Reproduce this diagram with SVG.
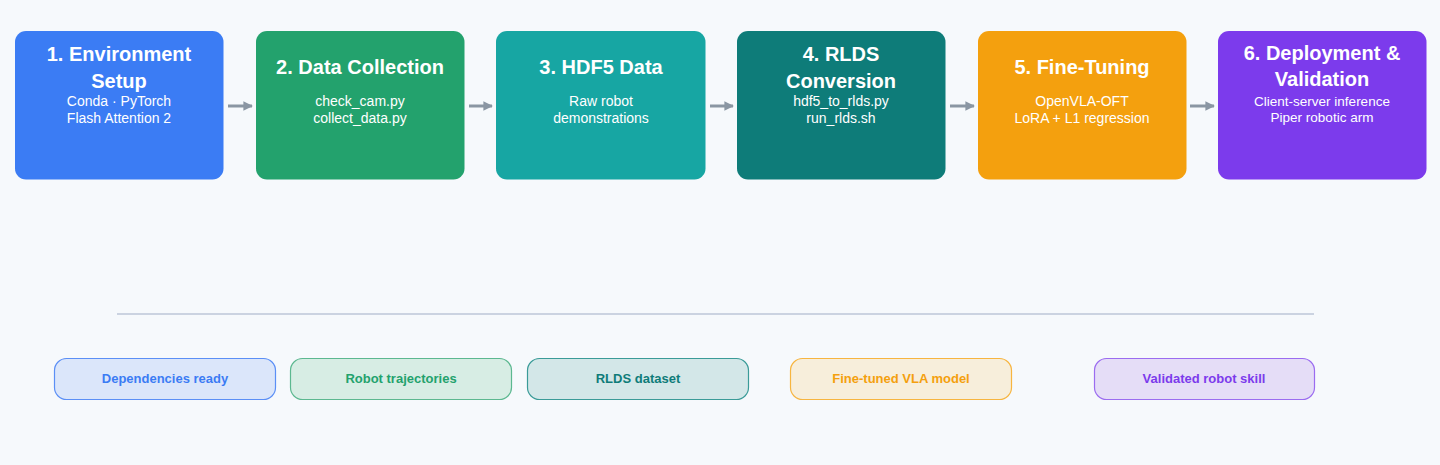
<svg xmlns="http://www.w3.org/2000/svg" width="1440" height="465" viewBox="0 0 1440 465">
<defs>
<marker id="ah" viewBox="0 0 10 10" refX="9" refY="5" markerWidth="3.2" markerHeight="3.2" orient="auto" markerUnits="strokeWidth">
<path d="M0,0 L10,5 L0,10 z" fill="#8a96a3"/>
</marker>
<style>
.box{stroke:none}
.t{font-family:"Liberation Sans",Arial,sans-serif;font-weight:bold;font-size:20px;fill:#ffffff;text-anchor:middle}
.s{font-family:"Liberation Sans",Arial,sans-serif;font-size:14px;fill:#ffffff;text-anchor:middle}
.p{font-family:"Liberation Sans",Arial,sans-serif;font-weight:bold;font-size:13px;text-anchor:middle}
.conn{stroke:#8a96a3;stroke-width:3;fill:none}
</style>
</defs>
<rect width="1440" height="465" fill="#f6f9fc"/>

<g id="node1">
<rect class="box" x="15" y="31" width="208.5" height="148.5" rx="11" fill="#3b7cf4"/>
<text class="t" x="119" y="61">1. Environment</text>
<text class="t" x="119" y="88">Setup</text>
<text class="s" x="119" y="106">Conda · PyTorch</text>
<text class="s" x="119" y="123">Flash Attention 2</text>
</g>
<g id="node2">
<rect class="box" x="256" y="31" width="208.5" height="148.5" rx="11" fill="#23a26d"/>
<text class="t" x="360" y="74">2. Data Collection</text>
<text class="s" x="360" y="106">check_cam.py</text>
<text class="s" x="360" y="123">collect_data.py</text>
</g>
<g id="node3">
<rect class="box" x="496" y="31" width="209.5" height="148.5" rx="11" fill="#17a6a3"/>
<text class="t" x="601" y="74">3. HDF5 Data</text>
<text class="s" x="601" y="106">Raw robot</text>
<text class="s" x="601" y="123">demonstrations</text>
</g>
<g id="node4">
<rect class="box" x="737" y="31" width="208.5" height="148.5" rx="11" fill="#0e7c79"/>
<text class="t" x="841" y="61">4. RLDS</text>
<text class="t" x="841" y="88">Conversion</text>
<text class="s" x="841" y="106">hdf5_to_rlds.py</text>
<text class="s" x="841" y="123">run_rlds.sh</text>
</g>
<g id="node5">
<rect class="box" x="978" y="31" width="208.5" height="148.5" rx="11" fill="#f4a00e"/>
<text class="t" x="1082" y="74">5. Fine-Tuning</text>
<text class="s" x="1082" y="106">OpenVLA-OFT</text>
<text class="s" x="1082" y="123">LoRA + L1 regression</text>
</g>
<g id="node6">
<rect class="box" x="1218" y="31" width="208.5" height="148.5" rx="11" fill="#7c3bec"/>
<text class="t" x="1322" y="60">6. Deployment &amp;</text>
<text class="t" x="1322" y="86">Validation</text>
<text class="s" x="1322" y="106" style="font-size:13.5px">Client-server inference</text>
<text class="s" x="1322" y="122" style="font-size:13.5px">Piper robotic arm</text>
</g>

<g id="connectors">
<line class="conn" x1="228" y1="106" x2="252" y2="106" marker-end="url(#ah)"/>
<line class="conn" x1="469" y1="106" x2="492" y2="106" marker-end="url(#ah)"/>
<line class="conn" x1="710" y1="106" x2="733" y2="106" marker-end="url(#ah)"/>
<line class="conn" x1="950" y1="106" x2="974" y2="106" marker-end="url(#ah)"/>
<line class="conn" x1="1190" y1="106" x2="1214" y2="106" marker-end="url(#ah)"/>
</g>

<line id="divider" x1="117" y1="314" x2="1314" y2="314" stroke="#cbd3e1" stroke-width="2"/>

<g id="out1">
<rect x="54.5" y="358.5" width="221" height="41" rx="12" fill="#dbe6fa" stroke="#5b8ff6" stroke-width="1.2"/>
<text class="p" x="165" y="383" fill="#3b7cf4">Dependencies ready</text>
</g>
<g id="out2">
<rect x="290.5" y="358.5" width="221" height="41" rx="12" fill="#d7ede4" stroke="#5cb890" stroke-width="1.2"/>
<text class="p" x="401" y="383" fill="#23a26d">Robot trajectories</text>
</g>
<g id="out3">
<rect x="527.5" y="358.5" width="221" height="41" rx="12" fill="#d3e7e8" stroke="#3a9b98" stroke-width="1.2"/>
<text class="p" x="638" y="383" fill="#0e7c79">RLDS dataset</text>
</g>
<g id="out4">
<rect x="790.5" y="358.5" width="221" height="41" rx="12" fill="#f7eedb" stroke="#f7b540" stroke-width="1.2"/>
<text class="p" x="901" y="383" fill="#f4a00e">Fine-tuned VLA model</text>
</g>
<g id="out5">
<rect x="1094.5" y="358.5" width="220" height="41" rx="12" fill="#e5ddf7" stroke="#9b6cf0" stroke-width="1.2"/>
<text class="p" x="1204" y="383" fill="#7c3bec">Validated robot skill</text>
</g>
</svg>
